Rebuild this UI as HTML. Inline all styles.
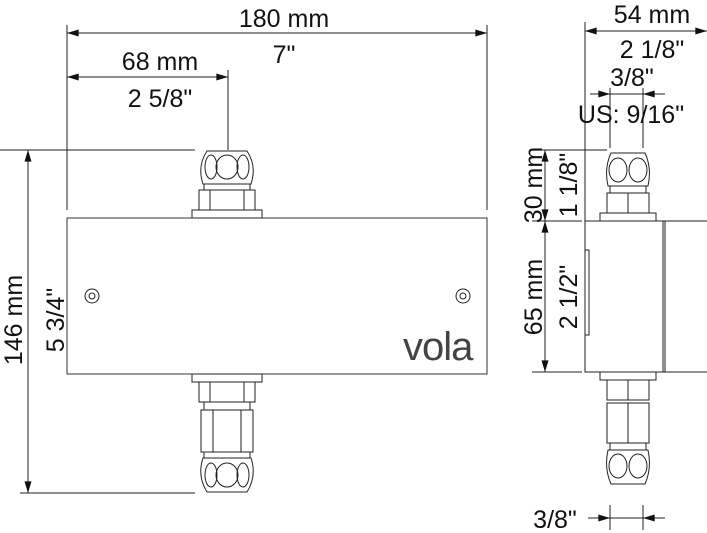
<!DOCTYPE html>
<html><head><style>body{margin:0;background:#fff}svg{display:block}text{font-family:"Liberation Sans",sans-serif;font-size:25px;fill:#111}</style></head><body>
<svg width="707" height="533" viewBox="0 0 707 533" xmlns="http://www.w3.org/2000/svg">
<defs>
<marker id="a" viewBox="0 0 10 6" refX="10" refY="3" markerWidth="15" markerHeight="7" markerUnits="userSpaceOnUse" orient="auto-start-reverse"><path d="M0,0L10,3L0,6z" fill="#111"/></marker>
</defs>
<g fill="none" stroke="#222" stroke-width="1">
<rect x="67" y="218" width="420" height="156" stroke="#333"/>
<circle cx="92" cy="296" r="7"/><circle cx="92" cy="296" r="3"/>
<circle cx="463" cy="296" r="7"/><circle cx="463" cy="296" r="3"/>
<rect x="192" y="210" width="70" height="8"/>
<rect x="199" y="190" width="56" height="20"/><path d="M210,190v20M244,190v20"/>
<rect x="204" y="184" width="46" height="6"/>
<path d="M203,184 q-6,-18 4,-33 h40 q10,15 4,33z"/>
<ellipse cx="211" cy="167" rx="6" ry="12"/><ellipse cx="227" cy="167" rx="11" ry="12"/><ellipse cx="243" cy="167" rx="6" ry="12"/>
<rect x="192" y="374" width="70" height="8"/>
<rect x="199" y="382" width="56" height="20"/><path d="M210,382v20M244,382v20"/>
<rect x="204" y="402" width="46" height="8"/>
<rect x="201" y="410" width="52" height="42"/><path d="M213,410v42M241,410v42"/>
<rect x="204" y="452" width="46" height="6"/>
<path d="M203,458 q-6,18 4,34 h40 q10,-16 4,-34z"/>
<ellipse cx="211" cy="475" rx="6" ry="12"/><ellipse cx="227" cy="475" rx="11" ry="12"/><ellipse cx="243" cy="475" rx="6" ry="12"/>
<rect x="585" y="221" width="80" height="151"/>
<path d="M665,221h42M665,372h42M663,221v151"/>
<path d="M585,250h4v85h-4"/>
<rect x="600" y="213" width="56" height="8"/>
<rect x="607" y="193" width="42" height="20"/><path d="M628,193v20"/>
<rect x="610" y="186" width="36" height="7"/>
<path d="M608,186 q-4,-18 3,-33 h34 q7,15 3,33z"/>
<ellipse cx="618" cy="170" rx="9" ry="12"/><ellipse cx="638" cy="170" rx="9" ry="12"/>
<rect x="600" y="372" width="56" height="8"/>
<rect x="607" y="380" width="42" height="20"/><path d="M628,380v20"/>
<rect x="607" y="403" width="42" height="40"/><path d="M628,403v40"/>
<rect x="610" y="443" width="36" height="7"/>
<path d="M608,450 q-4,18 3,34 h34 q7,-16 3,-34z"/>
<ellipse cx="618" cy="466" rx="9" ry="12"/><ellipse cx="638" cy="466" rx="9" ry="12"/>
</g>
<g stroke="#222" stroke-width="1" fill="none">
<path d="M67,25v185M487,25v185M228,70v80M0,150h195M20,493h175"/>
<path d="M585,22v199M610,88v60M643,88v60M532,150h75M532,221h50M532,372h50M610,505v25M643,505v25"/>
<path d="M67,33H487" marker-start="url(#a)" marker-end="url(#a)"/>
<path d="M67,77H228" marker-start="url(#a)" marker-end="url(#a)"/>
<path d="M28,150V493" marker-start="url(#a)" marker-end="url(#a)"/>
<path d="M585,31H707" marker-start="url(#a)" marker-end="url(#a)"/>
<path d="M590,94H665"/><path d="M595,94H610" marker-end="url(#a)"/><path d="M658,94H643" marker-end="url(#a)"/>
<path d="M545,150V221" marker-start="url(#a)" marker-end="url(#a)"/>
<path d="M545,221V372" marker-start="url(#a)" marker-end="url(#a)"/>
<path d="M588,518H610" marker-end="url(#a)"/><path d="M665,518H643" marker-end="url(#a)"/><path d="M610,518H643"/>
</g>
<text x="284" y="27" text-anchor="middle">180 mm</text>
<text x="284" y="63" text-anchor="middle">7"</text>
<text x="160" y="70" text-anchor="middle">68 mm</text>
<text x="160" y="107" text-anchor="middle">2 5/8"</text>
<text transform="translate(22,320) rotate(-90)" text-anchor="middle">146 mm</text>
<text transform="translate(64,320) rotate(-90)" text-anchor="middle">5 3/4"</text>
<text x="652" y="23" text-anchor="middle">54 mm</text>
<text x="652" y="58" text-anchor="middle">2 1/8"</text>
<text x="632" y="86" text-anchor="middle">3/8"</text>
<text x="631" y="123" text-anchor="middle">US: 9/16"</text>
<text transform="translate(542,185) rotate(-90)" text-anchor="middle">30 mm</text>
<text transform="translate(577,185) rotate(-90)" text-anchor="middle">1 1/8"</text>
<text transform="translate(542,297) rotate(-90)" text-anchor="middle">65 mm</text>
<text transform="translate(577,297) rotate(-90)" text-anchor="middle">2 1/2"</text>
<text x="555" y="528" text-anchor="middle">3/8"</text>
<text x="403" y="360" style="font-size:40px;fill:#444;letter-spacing:-1px">vola</text>
</svg>
</body></html>
